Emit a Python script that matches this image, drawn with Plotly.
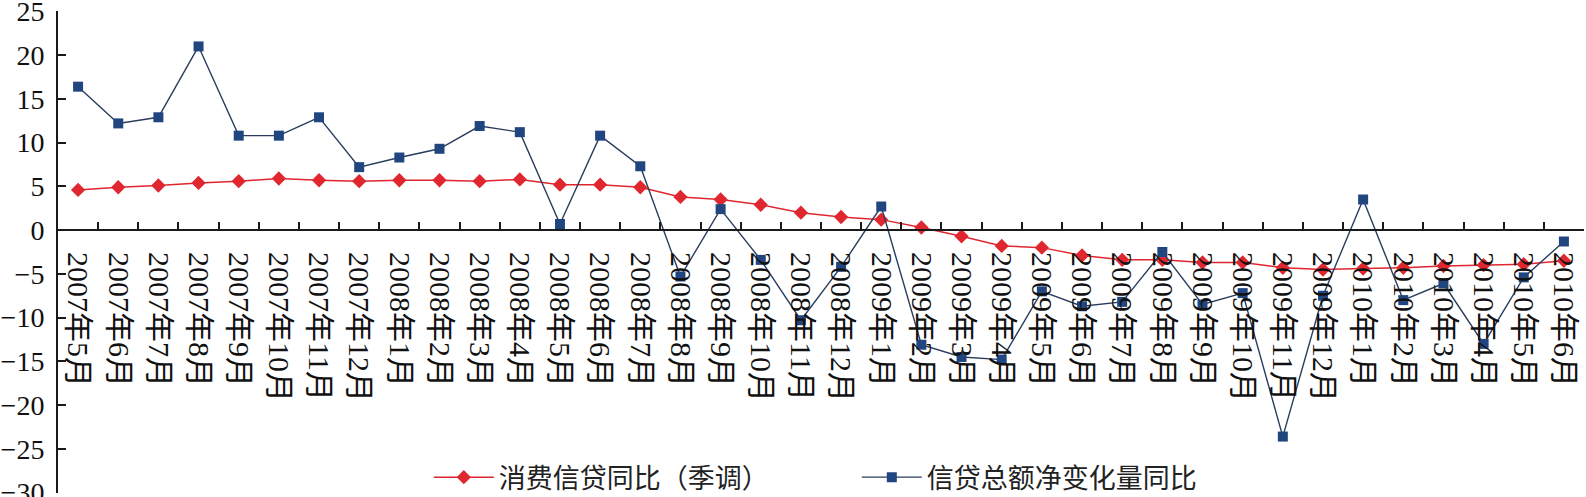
import plotly.graph_objects as go

months = (["2007年%d月" % m for m in range(5, 13)] +
          ["2008年%d月" % m for m in range(1, 13)] +
          ["2009年%d月" % m for m in range(1, 13)] +
          ["2010年%d月" % m for m in range(1, 7)])

consumer_credit = [4.6, 4.9, 5.1, 5.4, 5.6, 5.9, 5.7, 5.6, 5.7, 5.7,
                   5.6, 5.8, 5.2, 5.2, 4.9, 3.8, 3.5, 2.9, 2.0, 1.5,
                   1.2, 0.3, -0.7, -1.8, -2.0, -2.9, -3.4, -3.4, -3.7, -3.7,
                   -4.3, -4.5, -4.4, -4.3, -4.1, -4.0, -3.9, -3.5]

total_credit = [16.4, 12.2, 12.9, 21.0, 10.8, 10.8, 12.9, 7.2, 8.3, 9.3,
                11.9, 11.2, 0.7, 10.8, 7.3, -5.3, 2.4, -3.4, -10.3, -4.2,
                2.7, -13.1, -14.5, -14.8, -7.0, -8.7, -8.2, -2.5, -8.5, -7.2,
                -23.6, -7.5, 3.5, -8.0, -6.1, -13.0, -5.4, -1.3]

name_red = "消费信贷同比（季调）"
name_blue = "信贷总额净变化量同比"

y_ticks = [25, 20, 15, 10, 5, 0, -5, -10, -15, -20, -25, -30]
y_tick_text = [str(v).replace("-", "−") for v in y_ticks]

serif = "Liberation Serif, Times New Roman, Noto Sans CJK SC"

fig = go.Figure()
fig.add_trace(go.Scatter(
    x=months, y=consumer_credit, name=name_red, mode="lines+markers",
    line=dict(color="#e0262e", width=1.5),
    marker=dict(symbol="diamond", size=11, color="#e0262e"),
))
fig.add_trace(go.Scatter(
    x=months, y=total_credit, name=name_blue, mode="lines+markers",
    line=dict(color="#2a3d5e", width=1.4),
    marker=dict(symbol="square", size=10, color="#21467f"),
))

fig.update_layout(
    width=1586, height=497,
    margin=dict(l=58, r=2, t=11, b=4, autoexpand=False),
    paper_bgcolor="white", plot_bgcolor="white",
    showlegend=True,
    legend=dict(
        orientation="h", x=0.243, xanchor="left", y=0.032, yanchor="middle",
        font=dict(family="Noto Sans CJK SC", size=27, color="#222"),
        itemwidth=60,
        entrywidth=353, entrywidthmode="pixels",
        bgcolor="rgba(255,255,255,0)",
    ),
    xaxis=dict(
        type="category", anchor="free", position=30 / 55,
        showline=True, linecolor="#1a1a1a", linewidth=2,
        ticks="inside", ticklen=7, tickwidth=2, tickcolor="#1a1a1a",
        tickson="boundaries", tickangle=90,
        tickfont=dict(family=serif, size=30, color="#111"),
        ticklabelstandoff=15,
        showgrid=False, zeroline=False, automargin=False,
        range=[-0.5, len(months) - 0.5],
    ),
    yaxis=dict(
        range=[-30.05, 25.05], tickvals=y_ticks, ticktext=y_tick_text,
        showline=True, linecolor="#1a1a1a", linewidth=2,
        ticks="inside", ticklen=8, tickwidth=2, tickcolor="#1a1a1a",
        tickfont=dict(family=serif, size=28, color="#111"),
        ticklabeloverflow="allow", ticklabelstandoff=6,
        showgrid=False, zeroline=False, automargin=False,
    ),
)

fig.write_html("out.html")
